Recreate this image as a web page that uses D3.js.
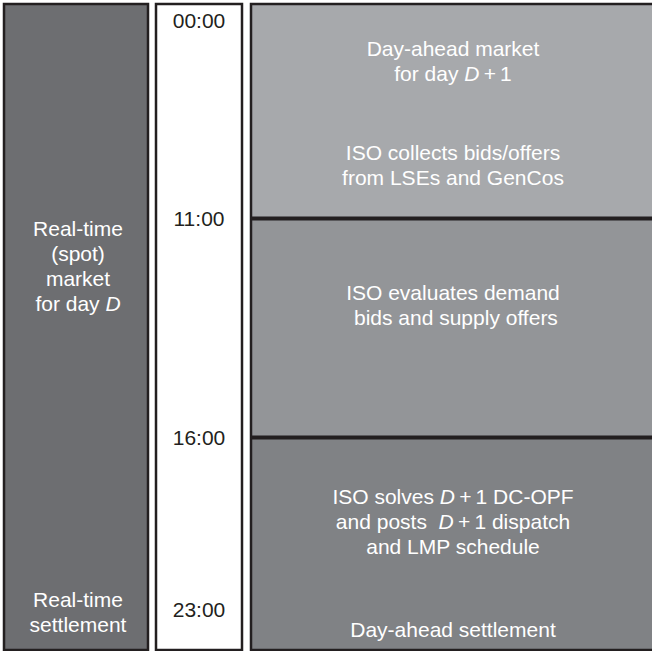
<!DOCTYPE html>
<html>
<head>
<meta charset="utf-8">
<script src="https://cdn.jsdelivr.net/npm/d3@7"></script>
<style>
  html, body { margin: 0; padding: 0; background: #fff; }
  svg { display: block; }
  text { font-family: "Liberation Sans", Arial, Helvetica, sans-serif; font-size: 21px; }
</style>
</head>
<body>
<svg id="viz"></svg>
<script>
// --- Data ---
const timeLabels = ["00:00", "11:00", "16:00", "23:00"];
const timeHours = [0, 11, 16, 23];

const phaseStart = [0, 11, 16];
const phaseEnd = [11, 16, 24];
const phaseNames = ["collect", "evaluate", "solve"];

// *x* marks italic
const rightText = [
    ["Day-ahead market", "for day *D*\u2009+\u20091"],
    ["ISO collects bids/offers", "from LSEs and GenCos"],
    ["ISO evaluates demand", "\u00a0bids and supply offers"],
    ["ISO solves *D*\u2009+\u20091 DC-OPF", "and posts \u00a0*D*\u2009+\u20091 dispatch", "and LMP schedule"],
    ["Day-ahead settlement"]
];
const leftText = [
    ["Real-time", "(spot)", "market", "for day *D*"],
    ["Real-time", "settlement"]
];

// --- Layout / styles ---
const CONFIG = {
    width: 652,
    height: 651,
    top: 4,
    bottom: 650,
    lineHeight: 25,
    stroke: "#231f20",
    colors: {
        left: "#6d6e71",
        mid: "#ffffff",
        phases: ["#a7a9ac", "#939598", "#808285"]
    },
    cols: {
        left: [4, 148],
        mid: [156, 242],
        right: [251, 670]
    },
    // first baseline of each text block
    rightBaselines: [56, 160, 300, 504, 637],
    leftBaselines: [236, 607]
};

const svg = d3.select("#viz")
    .attr("width", CONFIG.width)
    .attr("height", CONFIG.height);

const y = d3.scaleLinear()
    .domain([0, 11, 16, 24])
    .range([CONFIG.top, 218.5, 437.5, CONFIG.bottom]);

// --- Left column ---
const [lx0, lx1] = CONFIG.cols.left;
svg.append("rect")
    .attr("x", lx0).attr("y", y(0))
    .attr("width", lx1 - lx0).attr("height", y(24) - y(0))
    .attr("fill", CONFIG.colors.left)
    .attr("stroke", CONFIG.stroke)
    .attr("stroke-width", 2.5);

// --- Right column phases ---
const [rx0, rx1] = CONFIG.cols.right;
svg.append("g")
    .selectAll("rect")
    .data(phaseNames)
    .join("rect")
    .attr("x", rx0)
    .attr("y", (d, i) => y(phaseStart[i]))
    .attr("width", rx1 - rx0)
    .attr("height", (d, i) => y(phaseEnd[i]) - y(phaseStart[i]))
    .attr("fill", (d, i) => CONFIG.colors.phases[i]);

svg.append("rect")
    .attr("x", rx0).attr("y", y(0))
    .attr("width", rx1 - rx0).attr("height", y(24) - y(0))
    .attr("fill", "none")
    .attr("stroke", CONFIG.stroke)
    .attr("stroke-width", 2.5);

svg.append("g")
    .selectAll("line")
    .data(phaseStart.slice(1))
    .join("line")
    .attr("x1", rx0).attr("x2", rx1)
    .attr("y1", d => y(d)).attr("y2", d => y(d))
    .attr("stroke", CONFIG.stroke)
    .attr("stroke-width", 4);

// --- Middle time column ---
const [mx0, mx1] = CONFIG.cols.mid;
svg.append("rect")
    .attr("x", mx0).attr("y", y(0))
    .attr("width", mx1 - mx0).attr("height", y(24) - y(0))
    .attr("fill", CONFIG.colors.mid)
    .attr("stroke", CONFIG.stroke)
    .attr("stroke-width", 2.5);

const labelY = h => Math.max(y(0) + 16.5, Math.min(y(h), CONFIG.bottom - 40.5));
svg.append("g")
    .selectAll("text")
    .data(timeLabels)
    .join("text")
    .attr("x", (mx0 + mx1) / 2)
    .attr("y", (d, i) => labelY(timeHours[i]))
    .attr("dy", "0.36em")
    .attr("text-anchor", "middle")
    .attr("fill", CONFIG.stroke)
    .text(d => d);

// --- Text helpers ---
function addLine(sel, str) {
    str.split("*").forEach((part, i) => {
        if (!part) return;
        sel.append("tspan")
            .attr("font-style", i % 2 ? "italic" : "normal")
            .text(part);
    });
}

function drawBlocks(blocks, baselines, cx) {
    blocks.forEach((lines, b) => {
        lines.forEach((ln, j) => {
            const t = svg.append("text")
                .attr("x", cx)
                .attr("y", baselines[b] + j * CONFIG.lineHeight)
                .attr("text-anchor", "middle")
                .attr("fill", "#fff")
                .style("white-space", "pre");
            addLine(t, ln);
        });
    });
}

drawBlocks(rightText, CONFIG.rightBaselines, 453);
drawBlocks(leftText, CONFIG.leftBaselines, (lx0 + lx1) / 2 + 2);
</script>
</body>
</html>
